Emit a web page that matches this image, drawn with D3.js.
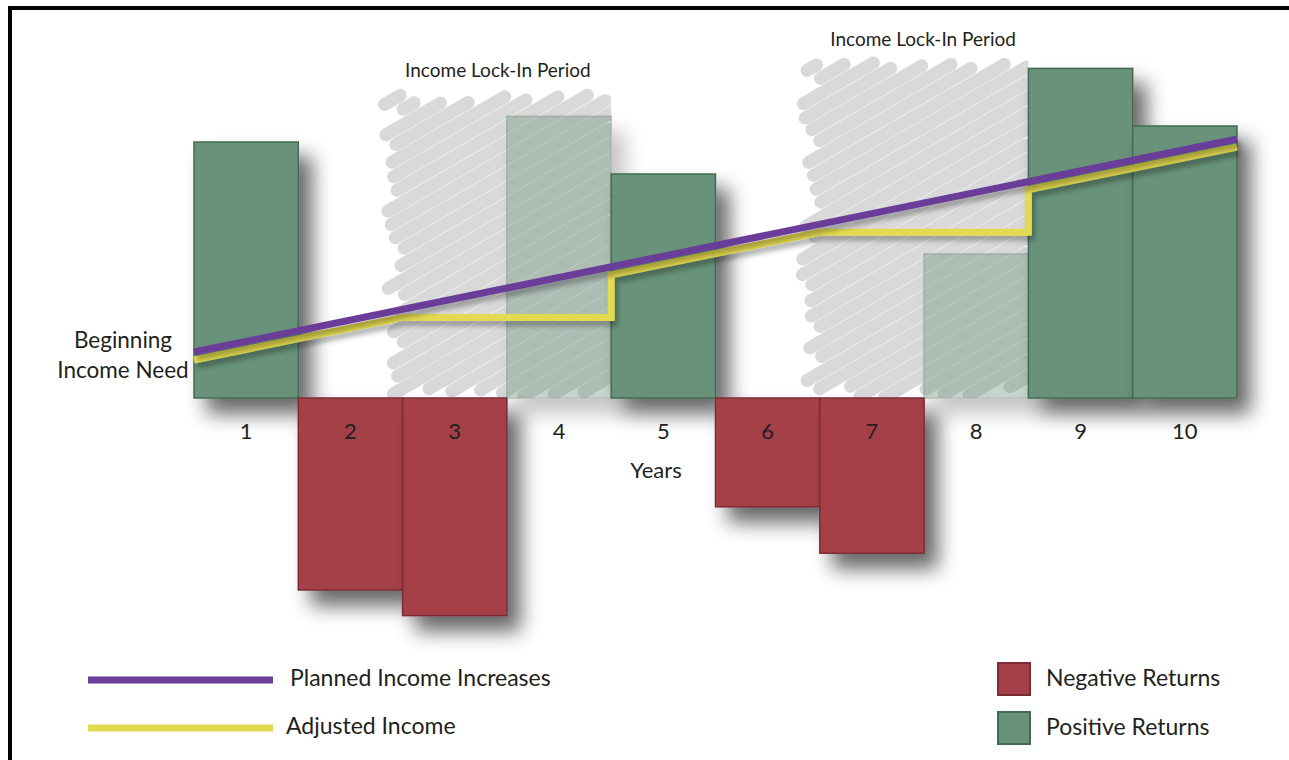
<!DOCTYPE html>
<html>
<head>
<meta charset="utf-8">
<script src="https://cdn.jsdelivr.net/npm/d3@7/dist/d3.min.js"></script>
<style>
  html, body { margin: 0; padding: 0; background: #fff; }
  svg { display: block; font-family: Lato, "Open Sans", sans-serif; }
</style>
</head>
<body>
<svg id="chart" width="1289" height="760"></svg>
<script>
// Yearly portfolio returns (%), years 1-10
const years = [1, 2, 3, 4, 5, 6, 7, 8, 9, 10];
const returns = [16, -12, -13.6, 17.6, 14, -6.8, -9.7, 9, 20.6, 17];
// Years whose return is held back during an income lock-in period
const lockedYears = [4, 8];
// Lock-in periods: [first year, last year]
const lockPeriods = [[3, 4], [7, 8]];
const lockLabel = "Income Lock-In Period";

// Income paths as [year boundary, income index]
const plannedIncome = [[0, 100], [10, 130]];
const adjustedIncome = [[0, 100], [2, 106], [4, 106], [4, 112], [6, 118], [8, 118], [8, 124], [10, 130]];

const legendLines = ["Planned Income Increases", "Adjusted Income"];
const legendBars = ["Negative Returns", "Positive Returns"];

const colors = {
  pos: "#679279", posEdge: "#436b53",
  neg: "#a5404a", negEdge: "#7c2c35",
  planned: "#6b3d99", adjusted: "#e3da50",
  scribble: "#d9d9d9", text: "#231f20"
};

const svg = d3.select("#chart");
const defs = svg.append("defs");

// Soft drop shadow for bars
const f = defs.append("filter").attr("id", "shadow")
  .attr("x", "-40%").attr("y", "-40%").attr("width", "200%").attr("height", "200%");
f.append("feGaussianBlur").attr("in", "SourceAlpha").attr("stdDeviation", 10).attr("result", "b");
f.append("feOffset").attr("in", "b").attr("dx", 13).attr("dy", 15).attr("result", "o");
f.append("feComponentTransfer").attr("in", "o").attr("result", "s")
  .append("feFuncA").attr("type", "linear").attr("slope", 0.6);
const fm = f.append("feMerge");
fm.append("feMergeNode").attr("in", "s");
fm.append("feMergeNode").attr("in", "SourceGraphic");

// Lighter shadow for income lines
const fl = defs.append("filter").attr("id", "lineShadow")
  .attr("x", "-10%").attr("y", "-30%").attr("width", "120%").attr("height", "160%");
fl.append("feGaussianBlur").attr("in", "SourceAlpha").attr("stdDeviation", 2.5).attr("result", "b");
fl.append("feOffset").attr("in", "b").attr("dx", 3).attr("dy", 5).attr("result", "o");
fl.append("feComponentTransfer").attr("in", "o").attr("result", "s")
  .append("feFuncA").attr("type", "linear").attr("slope", 0.3);
const flm = fl.append("feMerge");
flm.append("feMergeNode").attr("in", "s");
flm.append("feMergeNode").attr("in", "SourceGraphic");

// Scales
const x = d3.scaleBand().domain(years).range([194, 1237]).paddingInner(0).paddingOuter(0);
const xEdge = d3.scaleLinear().domain([0, years.length]).range([194, 1237]);
const y = d3.scaleLinear().domain([0, 20]).range([398, 78]);
const yIncome = d3.scaleLinear().domain([100, 130]).range([352, 139]);

// Frame (top and left edges)
svg.append("path").attr("d", "M10,770 V8 H1300")
  .attr("fill", "none").attr("stroke", "#000").attr("stroke-width", 4);

// Scribbled shading behind the lock-in periods
function hash(i) { const s = Math.sin(i * 12.9898) * 43758.5453; return s - Math.floor(s); }
const scribbleTop = [95, 64];
const labelShift = [-9, -1];
lockPeriods.forEach((p, k) => {
  const x0 = x(p[0]) - 12, x1 = x(p[1]) + x.bandwidth();
  const y0 = scribbleTop[k], y1 = y(0) - 4;
  const slope = 0.58, step = 15.5;
  const clipId = "clip" + k;
  defs.append("clipPath").attr("id", clipId).append("rect")
    .attr("x", x0 - 30).attr("y", y0 - 20).attr("width", x1 - x0 + 30).attr("height", y1 - y0 + 24);
  const g = svg.append("g").attr("clip-path", `url(#${clipId})`);
  const segs = [];
  for (let c = y0 + 6, i = 0; c < y1 + slope * (x1 - x0) - 4; c += step, i++) {
    // stroke along yy = c - slope*(xx - x0)
    let xa = Math.max(x0, x0 + (c - y1) / slope);
    let xb = Math.min(x1 + 10, x0 + (c - y0) / slope);
    xa += hash(i + k * 100) * 20 - 6;
    xb -= hash(i * 3 + 7 + k * 50) * 16 - 2;
    if (xb - xa < 6) continue;
    segs.push([xa, c - slope * (xa - x0), xb, c - slope * (xb - x0)]);
  }
  g.selectAll("line").data(segs).join("line")
    .attr("x1", d => d[0]).attr("y1", d => d[1]).attr("x2", d => d[2]).attr("y2", d => d[3])
    .attr("stroke", colors.scribble).attr("stroke-width", 13).attr("stroke-linecap", "round");

  svg.append("text").text(lockLabel)
    .attr("x", xEdge(p[0]) + labelShift[k]).attr("y", scribbleTop[k] - 18)
    .attr("text-anchor", "middle").attr("font-size", 19).attr("fill", colors.text);
});

// Return bars
const barData = years.map((yr, i) => ({ year: yr, value: returns[i], locked: lockedYears.includes(yr) }));
const bars = svg.append("g");
barData.forEach(d => {
  const g = bars.append("g").attr("opacity", d.locked ? 0.38 : 1);
  g.append("rect")
    .attr("x", x(d.year)).attr("width", x.bandwidth())
    .attr("y", y(Math.max(0, d.value)))
    .attr("height", Math.abs(y(d.value) - y(0)))
    .attr("fill", d.value >= 0 ? colors.pos : colors.neg)
    .attr("stroke", d.value >= 0 ? colors.posEdge : colors.negEdge)
    .attr("stroke-width", 1.5)
    .attr("filter", "url(#shadow)");
});

// Year labels
svg.append("g").selectAll("text").data(years).join("text")
  .attr("x", d => x(d) + x.bandwidth() / 2).attr("y", 439)
  .attr("text-anchor", "middle").attr("font-size", 22).attr("fill", colors.text)
  .text(d => d);
svg.append("text").text("Years").attr("x", 656).attr("y", 478)
  .attr("text-anchor", "middle").attr("font-size", 22).attr("fill", colors.text);

// Income lines; the adjusted line runs just beneath the planned line
const line = d3.line().x(d => xEdge(d[0])).y(d => yIncome(d[1]));
const laneOffset = 8;
svg.append("path").datum(adjustedIncome).attr("d", line)
  .attr("transform", `translate(0,${laneOffset})`)
  .attr("fill", "none").attr("stroke", colors.adjusted).attr("stroke-width", 7)
  .attr("stroke-linejoin", "miter").attr("filter", "url(#lineShadow)");
svg.append("path").datum(plannedIncome).attr("d", line)
  .attr("fill", "none").attr("stroke", colors.planned).attr("stroke-width", 7)
  .attr("filter", "url(#lineShadow)");

// Start label
const startLabel = svg.append("text").attr("text-anchor", "middle").attr("font-size", 22.5).attr("fill", colors.text);
startLabel.append("tspan").attr("x", 123).attr("y", 348).text("Beginning");
startLabel.append("tspan").attr("x", 123).attr("y", 378).text("Income Need");

// Legend: lines
const lineLegend = svg.append("g");
[colors.planned, colors.adjusted].forEach((c, i) => {
  const cy = 680 + i * 48;
  lineLegend.append("line").attr("x1", 88).attr("x2", 273).attr("y1", cy).attr("y2", cy)
    .attr("stroke", c).attr("stroke-width", 7);
  lineLegend.append("text").attr("x", i === 0 ? 290 : 286).attr("y", cy + 6)
    .attr("font-size", 23).attr("fill", colors.text).text(legendLines[i]);
});

// Legend: bars
const barLegend = svg.append("g");
[[colors.neg, colors.negEdge], [colors.pos, colors.posEdge]].forEach((c, i) => {
  const top = 663 + i * 49;
  barLegend.append("rect").attr("x", 998).attr("y", top).attr("width", 32).attr("height", 32)
    .attr("fill", c[0]).attr("stroke", c[1]).attr("stroke-width", 2);
  barLegend.append("text").attr("x", 1046).attr("y", top + 23)
    .attr("font-size", 23).attr("fill", colors.text).text(legendBars[i]);
});
</script>
</body>
</html>
